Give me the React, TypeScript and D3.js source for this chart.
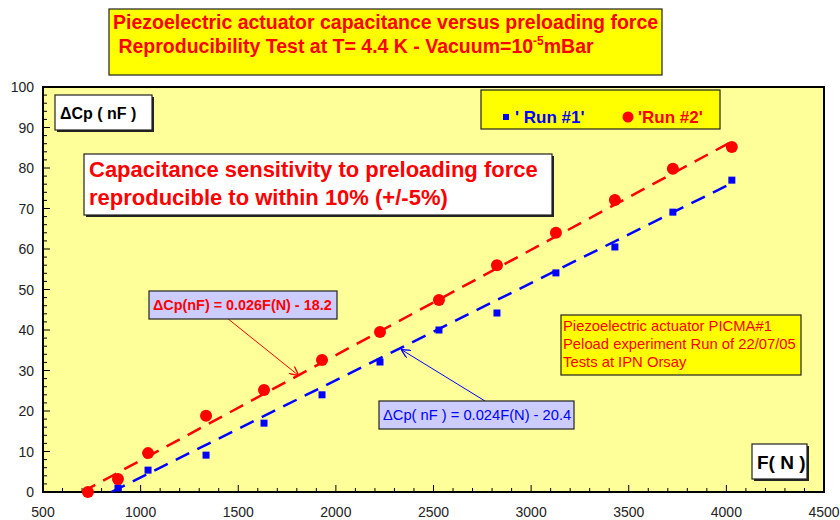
import React, { useEffect, useRef } from 'react';
import * as d3 from 'd3';

// force (N) and capacitance change (nF)
const forceRun1 = [884, 1038, 1335, 1632, 1929, 2226, 2528, 2825, 3127, 3429, 3726, 4028];
const capRun1 = [1.0, 5.4, 9.1, 17.0, 24.0, 32.1, 40.0, 44.2, 54.1, 60.5, 69.1, 77.0];
const forceRun2 = [730, 884, 1038, 1335, 1632, 1929, 2226, 2528, 2825, 3127, 3429, 3726, 4028];
const capRun2 = [0, 3.2, 9.6, 18.8, 25.2, 32.6, 39.5, 47.4, 56.0, 64.0, 72.1, 79.8, 85.2];

// linear fits [slope, intercept]
const fitRun1 = [0.024, -20.4];
const fitRun2 = [0.026, -18.2];

const seriesNames = ["' Run #1'", "'Run #2'"];
const titleLines = ['Piezoelectric actuator capacitance versus preloading force', ' Reproducibility Test at T= 4.4 K - Vacuum=10'];
const noteLines = ['Capacitance sensitivity to preloading force', 'reproducible to within 10% (+/-5%)'];
const infoLines = ['Piezoelectric actuator PICMA#1', 'Peload experiment Run of 22/07/05', 'Tests at IPN Orsay'];
const xTicks = [500, 1000, 1500, 2000, 2500, 3000, 3500, 4000, 4500];
const yTicks = [0, 10, 20, 30, 40, 50, 60, 70, 80, 90, 100];

const W = 840;
const H = 520;
const FONT = "Arial, 'Liberation Sans', sans-serif";

export default function App() {
    const ref = useRef<SVGSVGElement | null>(null);

    useEffect(() => {
        const svg = d3.select(ref.current);
        svg.selectAll('*').remove();

        const x = d3.scaleLinear().domain([500, 4500]).range([43, 824]);
        const y = d3.scaleLinear().domain([0, 100]).range([492, 87]);

        const defs = svg.append('defs');
        const mk = (id: string, color: string) => {
            defs.append('marker')
                .attr('id', id)
                .attr('viewBox', '0 0 10 10')
                .attr('refX', 9).attr('refY', 5)
                .attr('markerWidth', 9).attr('markerHeight', 9)
                .attr('orient', 'auto')
                .append('path')
                .attr('d', 'M0,0 L10,5 L0,10')
                .attr('fill', 'none')
                .attr('stroke', color)
                .attr('stroke-width', 1.5);
        };
        mk('arrRed', '#ff0000');
        mk('arrBlue', '#0000ff');

        svg.append('rect').attr('width', W).attr('height', H).attr('fill', '#ffffff');

        // plot area
        svg.append('rect')
            .attr('x', x(500)).attr('y', y(100))
            .attr('width', x(4500) - x(500)).attr('height', y(0) - y(100))
            .attr('fill', '#ffff99')
            .attr('stroke', '#000').attr('stroke-width', 2);

        // little helper for boxes with a shadow
        const box = (x0: number, y0: number, w: number, h: number, fill: string, shadow = true) => {
            if (shadow) {
                svg.append('rect').attr('x', x0 + 2).attr('y', y0 + 2).attr('width', w).attr('height', h).attr('fill', '#222');
            }
            svg.append('rect').attr('x', x0).attr('y', y0).attr('width', w).attr('height', h)
                .attr('fill', fill).attr('stroke', '#222').attr('stroke-width', 1.2);
        };

        // y ticks (inside)
        const yMinor = d3.range(0, 101, 2);
        svg.append('g').selectAll('line').data(yMinor).enter().append('line')
            .attr('x1', x(500)).attr('x2', d => x(500) + (d % 10 === 0 ? 7 : 4))
            .attr('y1', d => y(d)).attr('y2', d => y(d))
            .attr('stroke', '#000').attr('stroke-width', 1);
        const xMinor = d3.range(500, 4501, 100);
        svg.append('g').selectAll('line').data(xMinor).enter().append('line')
            .attr('x1', d => x(d)).attr('x2', d => x(d))
            .attr('y1', y(0)).attr('y2', d => y(0) - (d % 500 === 0 ? 7 : 4))
            .attr('stroke', '#000').attr('stroke-width', 1);

        svg.append('g').selectAll('text').data(yTicks).enter().append('text')
            .attr('x', 34).attr('y', d => y(d) + 5)
            .attr('text-anchor', 'end')
            .attr('font-family', FONT).attr('font-size', 14).attr('fill', '#222')
            .text(d => d);
        svg.append('g').selectAll('text').data(xTicks).enter().append('text')
            .attr('x', d => x(d)).attr('y', 517)
            .attr('text-anchor', 'middle')
            .attr('font-family', FONT).attr('font-size', 14).attr('fill', '#222')
            .text(d => d);

        // fit lines
        const fits = [
            { fit: fitRun1, xs: forceRun1, color: '#0000ff' },
            { fit: fitRun2, xs: forceRun2, color: '#ff0000' },
        ];
        fits.forEach(f => {
            const [a, b] = f.fit;
            const x0 = -b / a;
            const x1 = d3.max(f.xs) as number;
            svg.append('line')
                .attr('x1', x(x0)).attr('y1', y(a * x0 + b))
                .attr('x2', x(x1)).attr('y2', y(a * x1 + b))
                .attr('stroke', f.color).attr('stroke-width', 2.5)
                .attr('stroke-dasharray', '15,9');
        });

        // markers
        svg.append('g').selectAll('rect').data(forceRun1).enter().append('rect')
            .attr('x', (d, i) => x(d) - 3.5).attr('y', (d, i) => y(capRun1[i]) - 3.5)
            .attr('width', 7).attr('height', 7).attr('fill', '#0000ff');
        svg.append('g').selectAll('circle').data(forceRun2).enter().append('circle')
            .attr('cx', d => x(d)).attr('cy', (d, i) => y(capRun2[i]))
            .attr('r', 6).attr('fill', '#ff0000');

        // title
        box(109, 9, 553, 66, '#ffff00', false);
        const title = svg.append('text').attr('font-family', FONT).attr('font-size', 19.5)
            .attr('font-weight', 'bold').attr('fill', '#ff0000');
        title.append('tspan').attr('x', 113).attr('y', 29).text(titleLines[0]);
        const t2 = title.append('tspan').attr('x', 113).attr('y', 53).attr('xml:space', 'preserve');
        t2.text(titleLines[1]);
        title.append('tspan').attr('dy', -8).attr('font-size', 12).text('-5');
        title.append('tspan').attr('dy', 8).text('mBar');

        // y axis label
        box(55, 95, 97, 35, '#ffffff');
        svg.append('text').attr('x', 60).attr('y', 119)
            .attr('font-family', FONT).attr('font-size', 16).attr('font-weight', 'bold').attr('fill', '#000')
            .text('ΔCp ( nF )');

        // x axis label
        box(752, 444, 55, 35, '#ffffff');
        svg.append('text').attr('x', 757).attr('y', 469)
            .attr('font-family', FONT).attr('font-size', 19).attr('font-weight', 'bold').attr('fill', '#000')
            .text('F( N )');

        // legend
        box(481, 90, 239, 39, '#ffff00', false);
        svg.append('rect').attr('x', 503).attr('y', 114).attr('width', 6).attr('height', 6).attr('fill', '#0000ff');
        svg.append('text').attr('x', 515).attr('y', 123).attr('xml:space', 'preserve')
            .attr('font-family', FONT).attr('font-size', 17).attr('font-weight', 'bold').attr('fill', '#0000ff')
            .text(seriesNames[0]);
        svg.append('circle').attr('cx', 628).attr('cy', 117).attr('r', 5.5).attr('fill', '#ff0000');
        svg.append('text').attr('x', 638).attr('y', 123)
            .attr('font-family', FONT).attr('font-size', 17).attr('font-weight', 'bold').attr('fill', '#ff0000')
            .text(seriesNames[1]);

        // sensitivity note
        box(84, 154, 468, 61, '#ffffff');
        noteLines.forEach((l, i) => {
            svg.append('text').attr('x', 89).attr('y', 177 + i * 28)
                .attr('font-family', FONT).attr('font-size', 22).attr('font-weight', 'bold').attr('fill', '#ff0000')
                .text(l);
        });

        // info box
        box(561, 315, 240, 60, '#ffff00', false);
        infoLines.forEach((l, i) => {
            svg.append('text').attr('x', 563).attr('y', 331 + i * 18)
                .attr('font-family', FONT).attr('font-size', 14.8).attr('fill', '#ff0000')
                .text(l);
        });

        // equation labels + arrows
        svg.append('line').attr('x1', 227).attr('y1', 318).attr('x2', 298).attr('y2', 375)
            .attr('stroke', '#ff0000').attr('stroke-width', 1).attr('marker-end', 'url(#arrRed)');
        box(149, 291, 188, 28, '#ccccff', false);
        svg.append('text').attr('x', 153).attr('y', 310)
            .attr('font-family', FONT).attr('font-size', 14.4).attr('font-weight', 'bold').attr('fill', '#ff0000')
            .text('ΔCp(nF) = ' + fitRun2[0] + 'F(N) - ' + Math.abs(fitRun2[1]));

        svg.append('line').attr('x1', 485).attr('y1', 401).attr('x2', 402).attr('y2', 350)
            .attr('stroke', '#0000ff').attr('stroke-width', 1).attr('marker-end', 'url(#arrBlue)');
        box(379, 401, 195, 28, '#ccccff', false);
        svg.append('text').attr('x', 383).attr('y', 420).attr('xml:space', 'preserve')
            .attr('font-family', FONT).attr('font-size', 14.7).attr('fill', '#0000ff')
            .text('ΔCp( nF ) = ' + fitRun1[0] + 'F(N) - ' + Math.abs(fitRun1[1]));
    }, []);

    return (
        <svg
            ref={ref}
            width={W}
            height={H}
            style={{ position: 'absolute', left: 0, top: 0 }}
        />
    );
}
